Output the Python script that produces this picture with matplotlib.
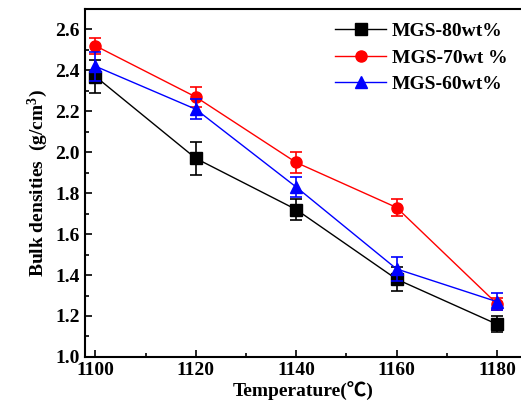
import matplotlib.pyplot as plt
from matplotlib.ticker import MultipleLocator

temps = [1100, 1120, 1140, 1160, 1180]

mgs80 = [2.37, 1.97, 1.72, 1.38, 1.16]
mgs80_err = [0.08, 0.08, 0.05, 0.06, 0.04]
mgs70 = [2.52, 2.27, 1.95, 1.73, 1.26]
mgs70_err = [0.04, 0.05, 0.05, 0.04, 0.03]
mgs60 = [2.42, 2.21, 1.83, 1.43, 1.27]
mgs60_err = [0.07, 0.05, 0.05, 0.06, 0.04]

labels = ["MGS-80wt%", "MGS-70wt %", "MGS-60wt%"]

plt.rcParams['font.family'] = ['Liberation Serif', 'Noto Sans CJK SC']
plt.rcParams['font.weight'] = 'bold'
plt.rcParams['mathtext.fontset'] = 'custom'
plt.rcParams['mathtext.rm'] = 'Liberation Serif:bold'
plt.rcParams['mathtext.it'] = 'Liberation Serif:bold'
plt.rcParams['mathtext.bf'] = 'Liberation Serif:bold'

fig = plt.figure(figsize=(5.21, 4.07), dpi=100)
ax = fig.add_axes([0.163, 0.123, 0.837, 0.855])

series = [(mgs80, mgs80_err, 'black', 's'),
          (mgs70, mgs70_err, 'red', 'o'),
          (mgs60, mgs60_err, 'blue', '^')]
for (vals, errs, col, mk), lab in zip(series, labels):
    ax.errorbar(temps, vals, yerr=errs, fmt='none', ecolor=col,
                elinewidth=1.2, capsize=4, capthick=1.2)
    ax.plot(temps, vals, color=col, marker=mk, markersize=8, lw=1, label=lab)

ax.set_xlim(1097.9, 1184.8)
ax.set_ylim(1.0, 2.7)
ax.xaxis.set_major_locator(MultipleLocator(20))
ax.xaxis.set_minor_locator(MultipleLocator(10))
ax.yaxis.set_major_locator(MultipleLocator(0.2))
ax.yaxis.set_minor_locator(MultipleLocator(0.1))
ax.tick_params(which='both', direction='in', labelsize=14, width=1.2)
ax.tick_params(which='major', length=5)
ax.tick_params(which='minor', length=3)
for t in ax.get_xticklabels() + ax.get_yticklabels():
    t.set_fontweight('bold')
ax.spines['right'].set_visible(False)
for s in ['left', 'bottom', 'top']:
    ax.spines[s].set_linewidth(1.5)

ax.set_xlabel("Temperature(℃)", fontsize=14, fontweight='bold', labelpad=2)
ax.set_ylabel("Bulk densities  (g/cm$^3$)", fontsize=14, fontweight='bold', labelpad=4)

leg = ax.legend(loc='upper right', frameon=False, fontsize=14, handlelength=2.6,
                borderaxespad=0.3, labelspacing=0.45, handletextpad=0.3)
for t in leg.get_texts():
    t.set_fontweight('bold')

fig.savefig('out.png', dpi=100)
